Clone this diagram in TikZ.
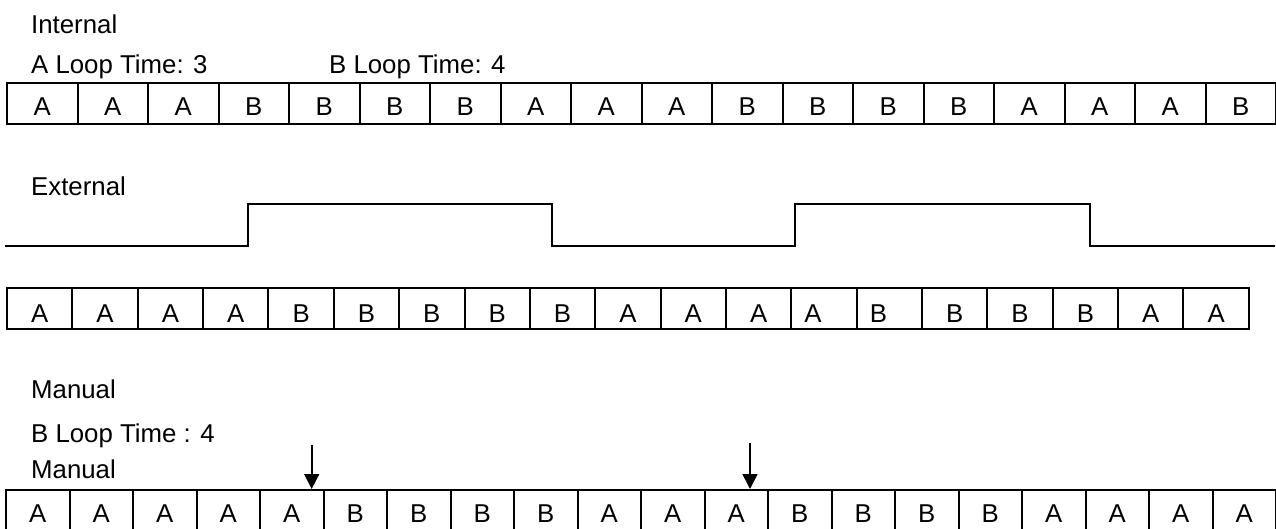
\documentclass[tikz,border=0pt]{standalone}
\usepackage{fontspec}
\setmainfont{Liberation Sans}
\usetikzlibrary{arrows.meta}
\begin{document}
\begin{tikzpicture}[x=1pt,y=-1pt,
  lbl/.style={anchor=base west,inner sep=0pt,font=\fontsize{25.8}{30}\selectfont},
  cellbox/.style={draw,line width=2pt,inner sep=0pt,anchor=north west,
    font=\fontsize{25.8}{30}\selectfont,text height=24.5pt,text depth=0pt},
  sig/.style={line width=2pt,line join=miter},
  marker/.style={line width=1.6pt,-{Triangle[width=15pt,length=15pt]}}]
\useasboundingbox (0,0) rectangle (1276,529);

% labels
\node[lbl] (tint) at (31,33.5) {Internal};
\node[lbl] (talp) at (31,73.3) {A Loop Time: 3};
\node[lbl] (tblp) at (329,73.3) {B Loop Time: 4};
\node[lbl] (text) at (31,196) {External};
\node[lbl] (tman) at (31,398) {Manual};
\node[lbl] (tblm) at (31,442) {B Loop Time : 4};
\node[lbl] (tmn2) at (31,478) {Manual};

% row 1 (internal)
\foreach \t [count=\i] in {A,A,A,B,B,B,B,A,A,A,B,B,B,B,A,A,A,B}
  \node[cellbox,minimum width=70.5pt,minimum height=41pt] (ra\i) at ({6+(\i-1)*70.5},82) {\t};

% external signal
\draw[sig] (5,246) -- (248,246) -- (248,204) -- (552,204) -- (552,246)
  -- (795,246) -- (795,204) -- (1090,204) -- (1090,246) -- (1275,246);

% row 2 (external)
\foreach \t/\k [count=\i] in {A/0,A/0,A/0,A/0,B/0,B/0,B/0,B/0,B/0,A/0,A/0,A/0,A/22,B/22,B/0,B/0,B/0,A/0,A/0}
  \node[cellbox,text height=27.9pt,minimum width=65.36pt,minimum height=40.5pt] (rb\i) at ({6+(\i-1)*65.36},287) {\t\kern\k pt};

% row 3 (manual)
\foreach \t [count=\i] in {A,A,A,A,A,B,B,B,B,A,A,A,B,B,B,B,A,A,A,A}
  \node[cellbox,minimum width=63.5pt,minimum height=41pt] (rc\i) at ({5+(\i-1)*63.5},489) {\t};

% manual trigger arrows
\coordinate (m1s) at (311.7,445);
\coordinate (m1e) at (311.7,489);
\coordinate (m2s) at (750,443);
\coordinate (m2e) at (750,489);
\draw[marker] (m1s) -- (m1e);
\draw[marker] (m2s) -- (m2e);
\end{tikzpicture}
\end{document}
